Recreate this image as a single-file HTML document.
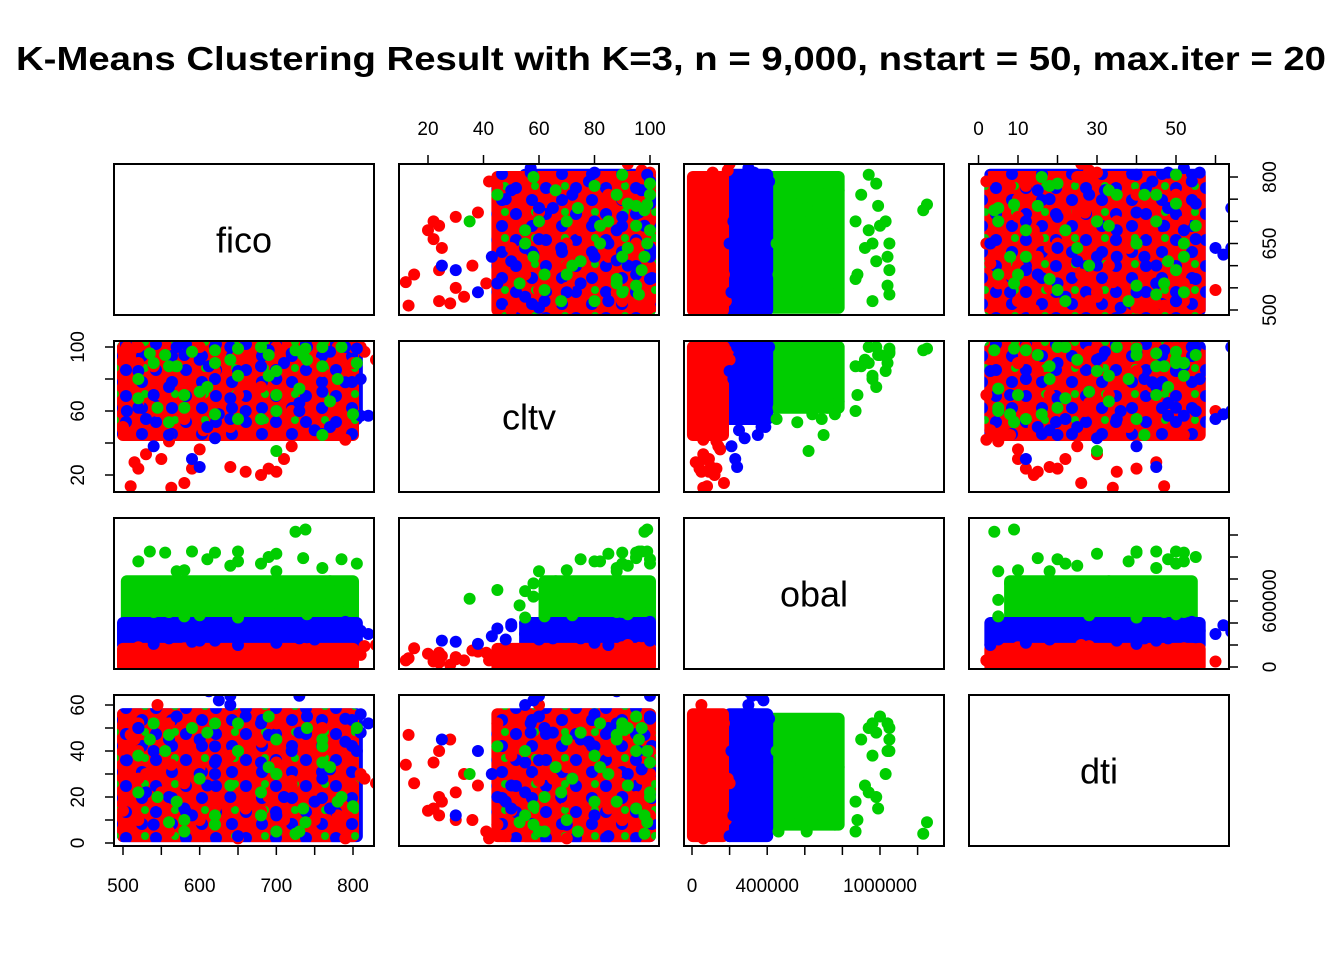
<!DOCTYPE html>
<html><head><meta charset="utf-8"><style>
body{margin:0;background:#fff}
svg text{font-family:"Liberation Sans",Arial,sans-serif}
</style></head><body>
<svg id="chart" width="1344" height="960" viewBox="0 0 1344 960" xmlns="http://www.w3.org/2000/svg">
<defs>
<pattern id="mix" width="30" height="26" patternUnits="userSpaceOnUse">
<rect width="30" height="26" fill="#FF0000"/>
<circle cx="6" cy="6" r="6" fill="#0000FF"/>
<circle cx="22" cy="18" r="6" fill="#0000FF"/>
<circle cx="25" cy="4" r="4" fill="#00CD00"/>
<circle cx="8" cy="20" r="6" fill="#FF0000"/>
</pattern>
</defs>
<rect width="1344" height="960" fill="#fff"/>
<text x="671" y="70" text-anchor="middle" font-size="33" font-weight="bold" textLength="1310" lengthAdjust="spacingAndGlyphs">K-Means Clustering Result with K=3, n = 9,000, nstart = 50, max.iter = 20</text>
<g id="cores"></g><g id="pts"></g><g id="frames"></g><g id="axes"></g>
</svg>
<script>
// variables & cluster data: [fico, cltv, obal(thousands), dti]
const varNames = ["fico","cltv","obal","dti"];
const clusterColors = ["#FF0000","#0000FF","#00CD00"];
// core (dense) ranges per cluster: [min,max] per variable
const coreRed   = [[500,800],[45,100],[5,165],[3,56]];
const coreBlue  = [[500,805],[55,100],[200,400],[3,56]];
const coreGreen = [[505,800],[62,100],[430,780],[8,54]];
const redPoints = [
[510,13,80,47],[563,12,60,34],[520,24,110,40],[530,33,60,30],[550,30,90,22],[590,24,40,12],[600,36,150,10],[640,25,100,18],[660,22,50,15],[680,20,120,14],[690,24,130,20],[710,30,70,10],[515,28,20,45],[560,45,150,52],[780,45,100,8],[790,42,60,2],[780,100,90,12],[800,90,40,25],[810,100,110,30],[545,60,50,60],[520,100,170,52],[560,41,130,5],[605,48,80,3],[650,70,60,2],[720,38,140,25],[500,50,20,14],[580,15,170,26],[700,22,90,35],[520,90,180,10],[760,85,70,40],
[505,100,50,40],[540,88,100,30],[600,100,150,48],[650,95,80,20],[700,100,30,52],[750,90,120,10],[600,70,60,33],[550,70,120,18],[680,75,160,44],[720,60,20,27],[640,50,110,38],[580,55,70,8],[760,100,150,50],[800,100,60,36],[620,85,130,15],[520,65,90,28],[815,97,190,28],[830,92,200,26]];
const bluePoints = [
[625,58,380,62],[810,57,320,48],[820,57,300,52],[640,55,300,60],[810,80,330,56],[600,25,240,45],[520,62,380,50],[790,100,410,54],[560,45,350,20],[680,55,400,35],[770,50,390,15],[700,60,250,5],[540,38,210,40],[620,43,280,30],[805,99,330,40],[750,48,250,18],[590,30,230,12],
[520,85,300,50],[560,75,260,45],[600,92,350,30],[640,68,280,20],[680,88,320,52],[720,96,300,40],[760,72,360,28],[700,80,220,12],[540,70,390,8],[620,100,240,35],[660,60,310,55],[580,95,280,15],[740,100,270,55],[790,78,300,44],[505,60,330,36],[650,85,200,3],[610,50,370,25],[690,98,350,47],[770,97,280,32],[730,65,260,48],[530,55,300,22],[570,100,350,55],[620,80,260,42],[710,90,310,20],[640,100,320,64],[612,88,300,66],[730,60,360,64]];
const greenPoints = [
[725,98,1230,4],[738,99,1250,9],[535,96,1050,45],[555,95,1040,40],[590,97,1050,50],[620,90,1040,52],[650,99,1050,40],[700,85,1030,30],[690,95,1000,55],[785,100,980,20],[805,90,940,50],[520,80,960,38],[760,88,900,45],[610,75,980,48],[650,82,960,52],[580,70,880,10],[700,60,870,5],[620,58,760,8],[640,92,920,25],[570,88,870,18],[735,95,990,15],[680,100,940,22],[760,45,700,42],[700,35,620,30],[680,55,690,12],[545,62,720,20],[770,66,780,33],[560,53,560,9],[800,58,640,16],[730,74,610,5],
[560,88,500,47],[600,72,470,28],[690,82,520,33],[740,92,480,50],[520,68,600,22],[650,55,450,40],[780,80,550,18],[620,98,520,12],[700,70,650,45],[580,62,460,5],[760,100,580,35],[540,90,500,52]];
// axis ticks
const ficoTicks = [500,550,600,650,700,750,800];
const cltvTicks = [20,40,60,80,100];
const obalTicks = [0,200,400,600,800,1000,1200];
const dtiTicks  = [0,10,20,30,40,50,60];

const NS="http://www.w3.org/2000/svg";
const colX=[114,399,684,969], rowY=[164,341,518,695], PW=260, PH=151;
const hScale=[v=>9+(v-500)*0.7667, v=>29+(v-20)*2.775, v=>8+v*0.188, v=>9.5+v*3.95];
const vScale=[v=>146-(v-500)*0.4433, v=>134-(v-20)*1.6, v=>149-v*0.11, v=>148-v*2.3];
function mk(tag,attrs,parent){const e=document.createElementNS(NS,tag);for(const k in attrs)e.setAttribute(k,attrs[k]);parent.appendChild(e);return e;}
const R=6;
const coresG=document.getElementById('cores'), ptsG=document.getElementById('pts'), frG=document.getElementById('frames'), axG=document.getElementById('axes');
const cores=[[coreGreen,2],[coreBlue,1],[coreRed,0]];
for(let r=0;r<4;r++)for(let c=0;c<4;c++){
  if(r===c)continue;
  const mixed=(r!==2&&c!==2);
  const clip=mk('clipPath',{id:'cp'+r+c},coresG);
  mk('rect',{x:colX[c],y:rowY[r],width:PW,height:PH},clip);
  const g=mk('g',{'clip-path':'url(#cp'+r+c+')'},ptsG);
  
  
  for(const [core,ci] of cores){
    const x1=colX[c]+hScale[c](core[c][0]), x2=colX[c]+hScale[c](core[c][1]);
    const y1=rowY[r]+vScale[r](core[r][1]), y2=rowY[r]+vScale[r](core[r][0]);
    const fill=(mixed&&ci===0)?'url(#mix)':clusterColors[ci];
    const e=mk('rect',{x:x1-R,y:y1-R,width:x2-x1+2*R,height:y2-y1+2*R,rx:R,fill:fill},g);
    
    
  }
  for(const [list,ci] of [[redPoints,0],[bluePoints,1],[greenPoints,2]]){
    for(const p of list){
      const e=mk('circle',{cx:colX[c]+hScale[c](p[c]),cy:rowY[r]+vScale[r](p[r]),r:R,fill:clusterColors[ci]},g);
      
      
    }
  }
}
for(let r=0;r<4;r++)for(let c=0;c<4;c++){
  const f=mk('rect',{x:colX[c],y:rowY[r],width:PW,height:PH,fill:'none',stroke:'#000','stroke-width':2},frG);
  
  
  if(r===c){
    const t=mk('text',{x:colX[c]+PW/2,y:rowY[r]+PH/2+13,'text-anchor':'middle','font-size':36},frG);
    t.textContent=varNames[r];
    
    
  }
}
function axis(side,idx,ticks,labels,fmt){
  const g=mk('g',{},axG);
  
  
  const horiz=(side==='top'||side==='bottom');
  const s=horiz?hScale[idx]:vScale[idx];
  const base=horiz?colX[idx]:rowY[idx];
  const pos=ticks.map(t=>base+s(t));
  const st={stroke:'#000','stroke-width':1.5};
  if(side==='bottom'){const y=rowY[3]+PH;pos.forEach(p=>mk('line',Object.assign({x1:p,x2:p,y1:y,y2:y+9},st),g));}
  if(side==='top'){const y=rowY[0];pos.forEach(p=>mk('line',Object.assign({x1:p,x2:p,y1:y,y2:y-9},st),g));}
  if(side==='left'){const x=colX[0];pos.forEach(p=>mk('line',Object.assign({y1:p,y2:p,x1:x,x2:x-9},st),g));}
  if(side==='right'){const x=colX[3]+PW;pos.forEach(p=>mk('line',Object.assign({y1:p,y2:p,x1:x,x2:x+9},st),g));}
  labels.forEach(l=>{
    const p=base+s(l); let t;
    if(side==='bottom')t=mk('text',{x:p,y:892,'text-anchor':'middle','font-size':19},g);
    if(side==='top')t=mk('text',{x:p,y:135,'text-anchor':'middle','font-size':19},g);
    if(side==='left')t=mk('text',{x:84,y:p,'text-anchor':'middle','font-size':19,transform:'rotate(-90 84 '+p+')'},g);
    if(side==='right')t=mk('text',{x:1276,y:p,'text-anchor':'middle','font-size':19,transform:'rotate(-90 1276 '+p+')'},g);
    t.textContent=fmt?fmt(l):l;
    
    
  });
}
axis('bottom',0,ficoTicks,[500,600,700,800]);
axis('bottom',2,obalTicks,[0,400,1000],v=>String(v*1000));
axis('top',1,cltvTicks,[20,40,60,80,100]);
axis('top',3,dtiTicks,[0,10,30,50]);
axis('left',1,cltvTicks,[20,60,100]);
axis('left',3,dtiTicks,[0,20,40,60]);
axis('right',0,ficoTicks,[500,650,800]);
axis('right',2,obalTicks,[0,600],v=>String(v*1000));
</script>
</body></html>
